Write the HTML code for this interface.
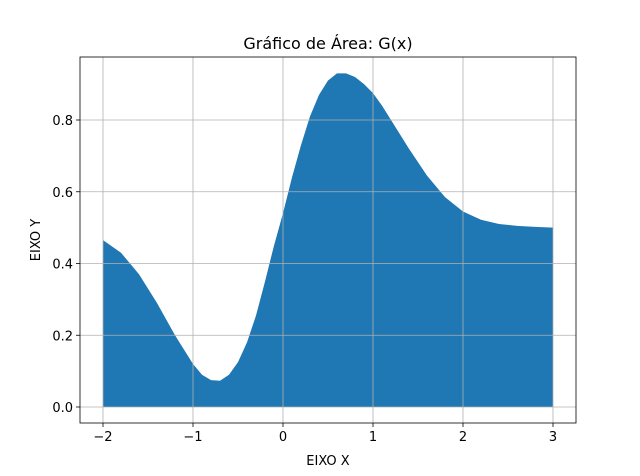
<!DOCTYPE html>
<html><head><meta charset="utf-8"><style>
body{margin:0;background:#fff;}
svg{display:block;font-family:"DejaVu Sans","Liberation Sans",sans-serif;}
</style></head><body>
<svg id="chart" width="640" height="476">
<text x="328" y="49" text-anchor="middle" font-size="16">Gráfico de Área: G(x)</text>
<g id="plot"></g>
<text x="328" y="465" text-anchor="middle" font-size="13">EIXO X</text>
<text x="0" y="0" transform="translate(40,240) rotate(-90)" text-anchor="middle" font-size="13">EIXO Y</text>
</svg>
<script>
const xs=[-2,-1.8,-1.6,-1.4,-1.2,-1.0,-0.9,-0.8,-0.7,-0.6,-0.5,-0.4,-0.3,-0.2,-0.1,0,0.1,0.2,0.3,0.4,0.5,0.6,0.7,0.8,0.9,1.0,1.1,1.2,1.4,1.6,1.8,2.0,2.2,2.4,2.6,2.8,3.0];
const ys=[0.465,0.43,0.37,0.29,0.2,0.12,0.09,0.075,0.073,0.09,0.125,0.18,0.255,0.35,0.45,0.54,0.64,0.73,0.81,0.87,0.91,0.93,0.93,0.92,0.9,0.875,0.84,0.8,0.72,0.645,0.585,0.545,0.522,0.51,0.505,0.502,0.5];
const xTicks=[-2,-1,0,1,2,3];
const yTicks=[0.0,0.2,0.4,0.6,0.8];
const L=80,R=576,T=57,B=423;
const sx=v=>283+v*90;
const sy=v=>407-v*358.75;
const NS="http://www.w3.org/2000/svg";
const g=document.getElementById('plot');
function mk(t,a){const e=document.createElementNS(NS,t);for(const k in a)e.setAttribute(k,a[k]);g.appendChild(e);return e;}
let d=`M${sx(xs[0])},${sy(0)}`;
xs.forEach((x,i)=>{d+=` L${sx(x)},${sy(ys[i])}`;});
d+=` L${sx(xs[xs.length-1])},${sy(0)} Z`;
const area=mk('path',{d:d,fill:'#1f77b4'});


xTicks.forEach(t=>{
 const gl=mk('line',{x1:sx(t),x2:sx(t),y1:T,y2:B,stroke:'#b0b0b0','stroke-width':0.8});
 
 
 mk('line',{x1:sx(t),x2:sx(t),y1:B,y2:B+4,stroke:'#000','stroke-width':0.8});
 const tx=mk('text',{x:sx(t),y:B+18,'text-anchor':'middle','font-size':13});
 tx.textContent=(t<0?'−'+(-t):String(t));
 
 
});
yTicks.forEach(t=>{
 const gl=mk('line',{x1:L,x2:R,y1:sy(t),y2:sy(t),stroke:'#b0b0b0','stroke-width':0.8});
 
 
 mk('line',{x1:L-4,x2:L,y1:sy(t),y2:sy(t),stroke:'#000','stroke-width':0.8});
 const tx=mk('text',{x:L-7,y:sy(t)+5,'text-anchor':'end','font-size':13});
 tx.textContent=t.toFixed(1);
 
 
});
const fr=mk('rect',{x:L,y:T,width:R-L,height:B-T,fill:'none',stroke:'#000','stroke-width':0.8});


</script>
</body></html>
